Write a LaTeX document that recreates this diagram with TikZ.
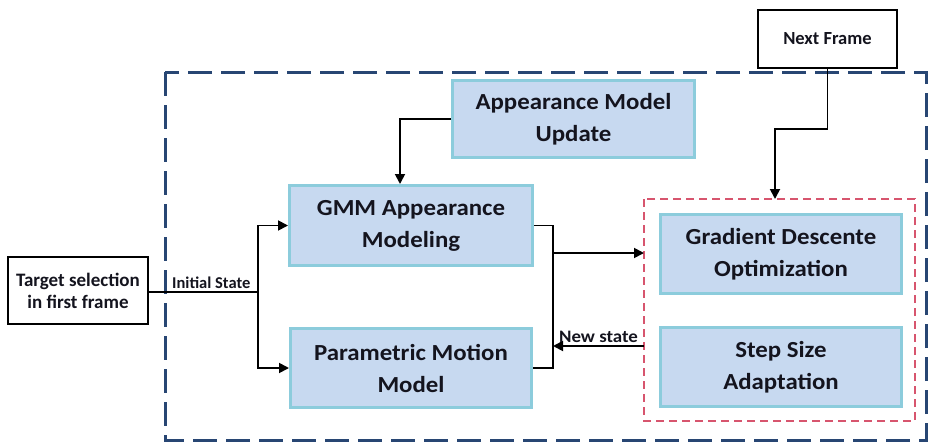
\documentclass[tikz,border=0pt]{standalone}
\usepackage{fontspec}
\setmainfont{Carlito}
\newfontfamily\widefont{Carlito}[FakeStretch=1.08]
\usetikzlibrary{arrows.meta}
\definecolor{boxfill}{RGB}{199,217,240}
\definecolor{boxedge}{RGB}{140,204,220}
\definecolor{outerblue}{RGB}{40,70,115}
\definecolor{redd}{RGB}{215,85,110}
\definecolor{txt}{RGB}{20,20,30}
\begin{document}
\begin{tikzpicture}[x=1pt,y=-1pt,
  bluebox/.style={draw=boxedge, line width=3pt, fill=boxfill, align=center, inner sep=0pt, text=txt,
    minimum width=241pt, minimum height=79pt, font=\widefont\bfseries\fontsize{23}{32}\selectfont},
  blackbox/.style={draw=black, line width=2.5pt, fill=white, align=center, inner sep=0pt, text=txt,
    font=\bfseries\fontsize{19}{22}\selectfont},
  conn/.style={line width=1.8pt, draw=black},
  arr/.style={conn, -{Triangle[length=10pt,width=10pt]}},
  lbl/.style={font=\bfseries\fontsize{16.5}{18}\selectfont, inner sep=2pt, text=txt}]
\useasboundingbox (0,0) rectangle (930,442);
% outer dashed frame
\draw[outerblue, line width=3pt, dash pattern=on 24pt off 9pt] (165,72) rectangle (926,440);
% red dashed frame
\draw[redd, line width=2pt, dash pattern=on 8pt off 5pt] (644,199) rectangle (915,421);
% boxes
\node[blackbox, minimum width=140pt, minimum height=67pt] (tgt) at (78,290.5) {Target selection\\in first frame};
\node[blackbox, minimum width=139pt, minimum height=58pt, font=\bfseries\fontsize{18.5}{22}\selectfont] (next) at (827.5,39) {Next Frame};
\node[bluebox, minimum width=242pt, minimum height=77pt] (amu) at (573.5,119) {Appearance Model\\Update};
\node[bluebox, minimum width=243pt, minimum height=80pt] (gmm) at (411,225.5) {GMM Appearance\\Modeling};
\node[bluebox] (pmm) at (411,368) {Parametric Motion\\Model};
\node[bluebox] (gdo) at (781,254) {Gradient Descente\\Optimization};
\node[bluebox] (ssa) at (781,367) {Step Size\\Adaptation};
% connectors
\coordinate (split) at (258,292);
\draw[conn] (tgt.east |- split) -- (split) node[lbl, pos=0.57, above] {Initial State};
\draw[arr] (split) |- (gmm.west);
\draw[arr] (split) |- (pmm.west);
\draw[arr] (amu.west) -| ([xshift=-11pt]gmm.north);
\coordinate (nf) at (775,129);
\draw[arr] (next.south) |- (nf) -- (nf |- 0,199);
\coordinate (jx) at (553,300);
\draw[conn] (gmm.east) -| (jx) |- (pmm.east);
\coordinate (ja) at (553,253);
\draw[arr] (ja) -- (644,253);
\coordinate (jb) at (553,346);
\draw[arr] (644,346) -- (jb) node[lbl, midway, above, font=\widefont\bfseries\fontsize{17.5}{18}\selectfont] {New state};
\end{tikzpicture}
\end{document}
